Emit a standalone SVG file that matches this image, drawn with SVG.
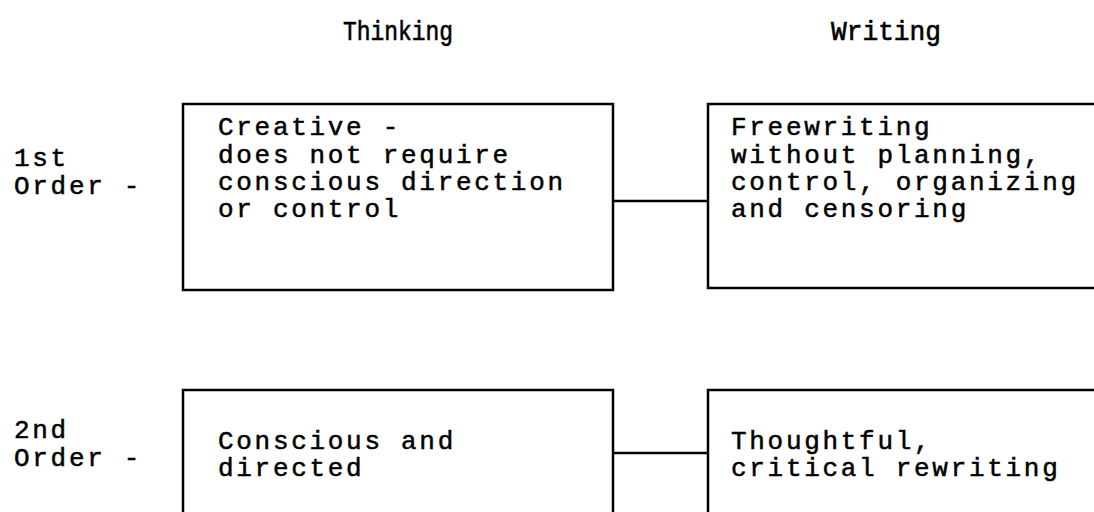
<svg xmlns="http://www.w3.org/2000/svg" width="1094" height="512" viewBox="0 0 1094 512">
<style>
.t{font-family:"Liberation Mono","Courier New",monospace;font-size:26px;letter-spacing:2.7px;fill:#000;stroke:#000;stroke-width:0.5}
.h{font-family:"Liberation Mono","Courier New",monospace;font-size:28px;fill:#000;stroke:#000;stroke-width:0.6}
.box{fill:#fff;stroke:#000;stroke-width:2.5}
.con{stroke:#000;stroke-width:2.5;fill:none}
</style>
<rect width="1094" height="512" fill="#fff"/>
<g id="headers">
<text class="h" x="343" y="40" textLength="110" lengthAdjust="spacingAndGlyphs">Thinking</text>
<text class="h" x="831" y="40" textLength="110" lengthAdjust="spacingAndGlyphs">Writing</text>
</g>
<g id="row-labels">
<text class="t" x="14" y="166">1st</text>
<text class="t" x="14" y="194">Order -</text>
<text class="t" x="14" y="438">2nd</text>
<text class="t" x="14" y="466">Order -</text>
</g>
<g id="connectors">
<line class="con" x1="613" y1="201" x2="708" y2="201"/>
<line class="con" x1="613" y1="453" x2="708" y2="453"/>
</g>
<g id="thinking-1">
<rect class="box" x="183" y="104" width="430" height="186"/>
<text class="t" x="218" y="135">Creative -</text>
<text class="t" x="218" y="163">does not require</text>
<text class="t" x="218" y="190">conscious direction</text>
<text class="t" x="218" y="217">or control</text>
</g>
<g id="writing-1">
<rect class="box" x="708" y="104" width="400" height="184"/>
<text class="t" x="731" y="135">Freewriting</text>
<text class="t" x="731" y="163">without planning,</text>
<text class="t" x="731" y="190">control, organizing</text>
<text class="t" x="731" y="217">and censoring</text>
</g>
<g id="thinking-2">
<rect class="box" x="183" y="390" width="430" height="140"/>
<text class="t" x="218" y="449">Conscious and</text>
<text class="t" x="218" y="476">directed</text>
</g>
<g id="writing-2">
<rect class="box" x="708" y="390" width="400" height="140"/>
<text class="t" x="731" y="449">Thoughtful,</text>
<text class="t" x="731" y="476">critical rewriting</text>
</g>
</svg>
